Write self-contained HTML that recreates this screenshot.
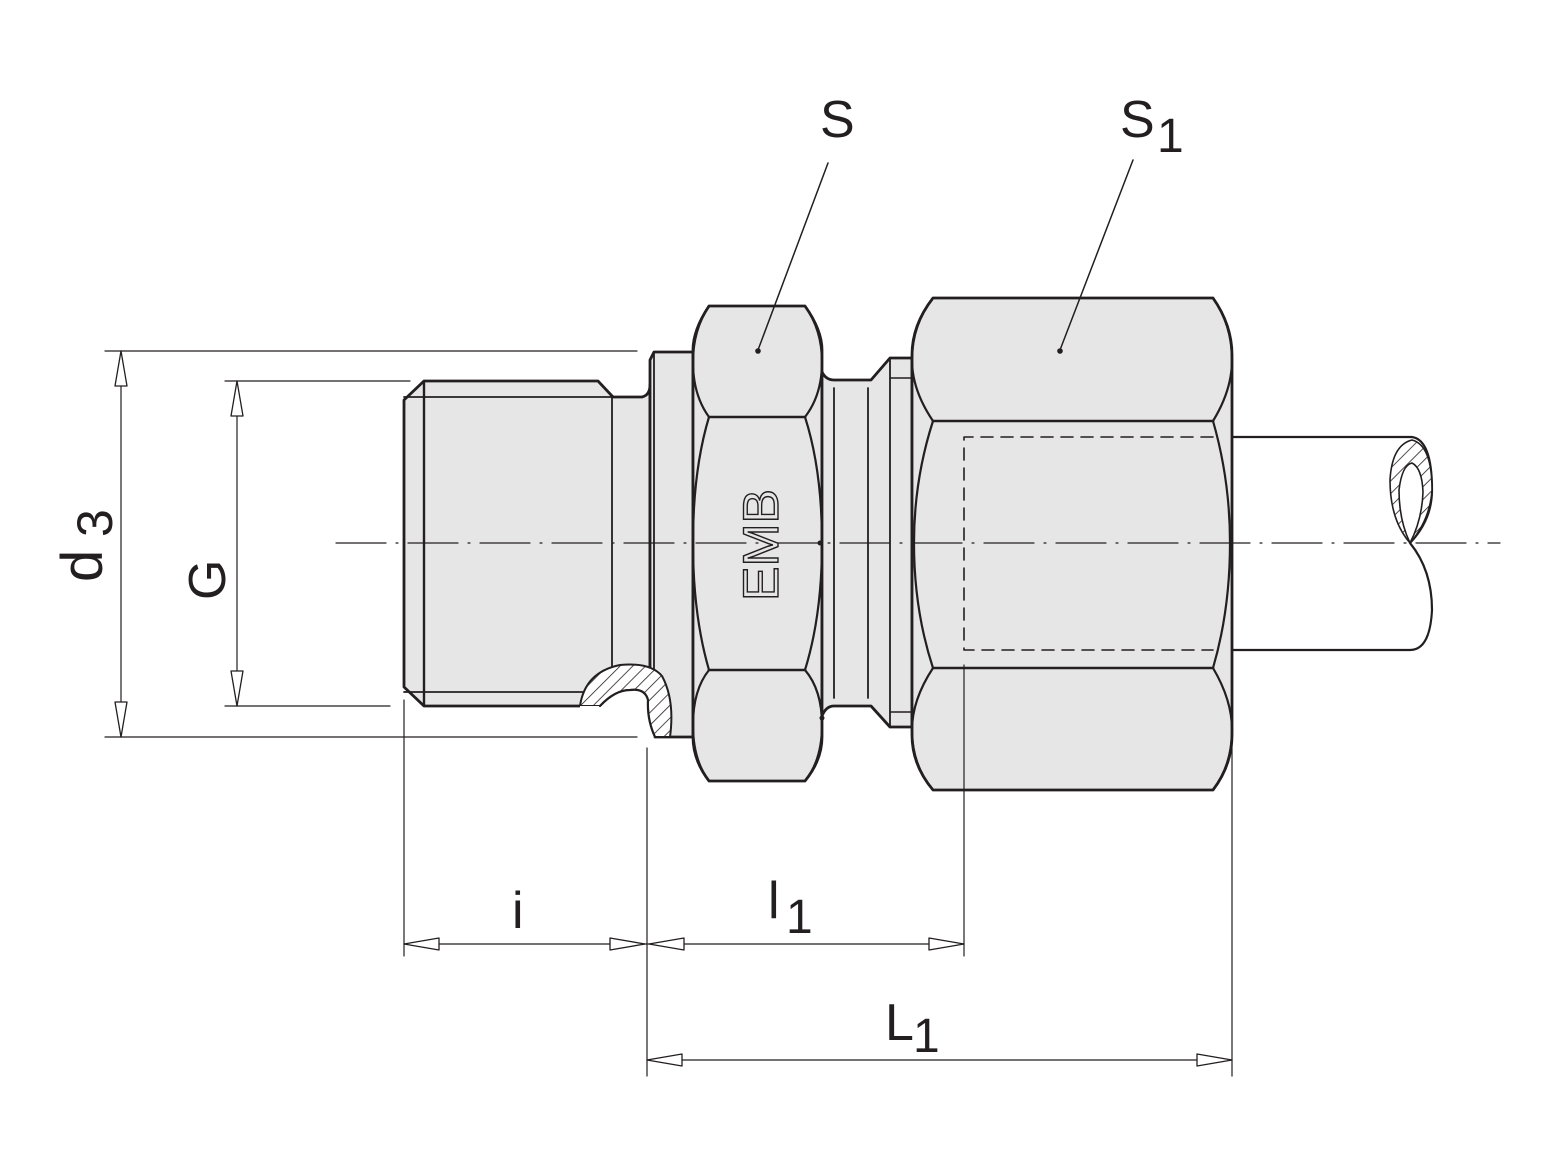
<!DOCTYPE html>
<html><head><meta charset="utf-8"><style>
html,body{margin:0;padding:0;background:#fff}
svg{display:block}
text{font-family:"Liberation Sans",sans-serif;fill:#231f20}
</style></head><body>
<svg width="1558" height="1169" viewBox="0 0 1558 1169" xmlns="http://www.w3.org/2000/svg">
<defs>
<pattern id="h" width="9" height="9" patternUnits="userSpaceOnUse" patternTransform="rotate(45)">
<rect width="9" height="9" fill="#fff"/><line x1="0" y1="0" x2="0" y2="9" stroke="#231f20" stroke-width="1.6"/>
</pattern>
</defs>
<g stroke="#231f20" fill="none" stroke-linecap="round" stroke-linejoin="round">
<!-- tube -->
<path d="M1232 437 L1412 437 Q1432 440 1432 490 Q1432 520 1410 543 Q1432 570 1432 610 Q1430 650 1410 650 L1232 650" fill="#fff" stroke-width="2.2"/>
<path d="M1410 543 Q1390 520 1390 480 Q1392 445 1412 440 Q1432 445 1432 490 Q1430 520 1410 543 Z" fill="url(#h)" stroke-width="1.6"/>
<path d="M1410 543 Q1399 520 1399 490 Q1402 465 1412 463 Q1422 468 1423 492 Q1422 520 1410 543 Z" fill="#fff" stroke-width="1.6"/>

<!-- thread body -->
<path d="M424 381 L598 381 L613 397 L642 397 Q650 395 650 385 L650 706 L598 706 L584 706 L424 706 L404 687 L404 400 Z" fill="#e6e6e7" stroke-width="2.8"/>
<line x1="424" y1="381" x2="424" y2="706" stroke-width="2.4"/>
<line x1="404" y1="397" x2="613" y2="397" stroke-width="1.8"/>
<line x1="404" y1="692" x2="600" y2="692" stroke-width="1.8"/>
<line x1="612" y1="397" x2="612" y2="680" stroke-width="1.8"/>
<!-- collar -->
<path d="M650 360 L654 352 L693 352 L693 737 L655 737 L650 700 Z" fill="#e6e6e7" stroke-width="2.8"/>
<line x1="654" y1="352" x2="654" y2="700" stroke-width="1.8"/>
<!-- section cutout -->
<path d="M580 706 Q585 672 620 665 Q650 662 662 676 Q675 700 670 737 L655 737 Q647 720 648 700 Q645 688 630 690 Q615 690 600 706 Z" fill="url(#h)" stroke-width="2"/>
<path d="M580 706 L600 706 Q615 690 630 690 Q645 688 648 700 Q647 720 655 737 L640 737 L580 737 Z" fill="#fff" stroke="none"/>
<path d="M600 706 Q615 690 630 690 Q645 688 648 700 Q647 720 655 737" stroke-width="2.2"/>

<!-- hex S -->
<path d="M709 306 L805 306 Q822 330 822 350 L822 737 Q822 760 805 781 L709 781 Q693 760 693 737 L693 350 Q693 330 709 306 Z" fill="#e6e6e7" stroke-width="2.8"/>
<path d="M709 417 Q693 470 693 543 Q693 615 709 670" stroke-width="2.2"/>
<path d="M805 417 Q822 470 822 543 Q822 615 805 670" stroke-width="2.2"/>
<path d="M709 417 Q693 395 693 362 Q693 330 709 306" stroke-width="2.2"/>
<path d="M805 417 Q822 395 822 362 Q822 330 805 306" stroke-width="2.2"/>
<path d="M709 670 Q693 690 693 725 Q693 760 709 781" stroke-width="2.2"/>
<path d="M805 670 Q822 690 822 725 Q822 760 805 781" stroke-width="2.2"/>
<line x1="709" y1="417" x2="805" y2="417" stroke-width="2.6"/>
<line x1="709" y1="670" x2="805" y2="670" stroke-width="2.6"/>

<!-- neck + collar 2 -->
<path d="M822 372 Q826 380 834 380 L871 380 L890 358 L912 358 L912 727 L890 727 L871 706 L834 706 Q826 706 822 716 Z" fill="#e6e6e7" stroke-width="2.8"/>
<line x1="834" y1="388" x2="834" y2="698" stroke-width="1.8"/>
<line x1="868" y1="388" x2="868" y2="698" stroke-width="1.8"/>
<line x1="890" y1="358" x2="890" y2="727" stroke-width="1.8"/>
<line x1="890" y1="378" x2="912" y2="378" stroke-width="1.4"/>
<line x1="890" y1="712" x2="912" y2="712" stroke-width="1.4"/>
<circle cx="820" cy="543" r="2.5" fill="#231f20" stroke="none"/>
<circle cx="822" cy="718" r="2.5" fill="#231f20" stroke="none"/>

<!-- hex S1 -->
<path d="M933 298 L1213 298 Q1232 325 1232 355 L1232 735 Q1232 765 1213 790 L933 790 Q912 765 912 735 L912 355 Q912 325 933 298 Z" fill="#e6e6e7" stroke-width="2.8"/>
<path d="M933 421 Q912 390 912 360 Q912 325 933 298" stroke-width="2.2"/>
<path d="M1213 421 Q1232 390 1232 360 Q1232 325 1213 298" stroke-width="2.2"/>
<path d="M933 421 Q914 480 914 543 Q914 610 933 668" stroke-width="2.2"/>
<path d="M1213 421 Q1230 480 1230 543 Q1230 610 1213 668" stroke-width="2.2"/>
<path d="M933 668 Q912 700 912 730 Q912 765 933 790" stroke-width="2.2"/>
<path d="M1213 668 Q1232 700 1232 730 Q1232 765 1213 790" stroke-width="2.2"/>
<line x1="933" y1="421" x2="1213" y2="421" stroke-width="2.6"/>
<line x1="933" y1="668" x2="1213" y2="668" stroke-width="2.6"/>
<line x1="1232" y1="437" x2="1232" y2="650" stroke-width="2"/>
<!-- dashed bore -->
<path d="M1213 437 L964 437 L964 650 L1213 650" stroke-width="1.6" stroke-dasharray="12 8"/>

<!-- centerline -->
<line x1="336" y1="543" x2="1500" y2="543" stroke-width="1.2" stroke-dasharray="50 10 2 10"/>

<!-- leaders -->
<line x1="828" y1="163" x2="758" y2="350" stroke-width="1.5"/>
<line x1="1133" y1="160" x2="1060" y2="350" stroke-width="1.5"/>
<circle cx="758" cy="351" r="2.8" fill="#231f20" stroke="none"/>
<circle cx="1060" cy="351" r="2.8" fill="#231f20" stroke="none"/>

<!-- extension lines -->
<g stroke-width="1.2">
<line x1="105" y1="351" x2="637" y2="351"/>
<line x1="105" y1="737" x2="637" y2="737"/>
<line x1="225" y1="381" x2="410" y2="381"/>
<line x1="225" y1="706" x2="390" y2="706"/>
<line x1="404" y1="700" x2="404" y2="956"/>
<line x1="647" y1="748" x2="647" y2="1076"/>
<line x1="964" y1="665" x2="964" y2="956"/>
<line x1="1232" y1="650" x2="1232" y2="1076"/>
<line x1="121" y1="351" x2="121" y2="737"/>
<line x1="237" y1="381" x2="237" y2="706"/>
<line x1="404" y1="944" x2="964" y2="944"/>
<line x1="647" y1="1060" x2="1232" y2="1060"/>
</g>
<g stroke-width="1.3" fill="#fff">
<path d="M121 351 L115 386 L127 386 Z"/>
<path d="M121 737 L115 702 L127 702 Z"/>
<path d="M237 381 L231 416 L243 416 Z"/>
<path d="M237 706 L231 671 L243 671 Z"/>
<path d="M404 944 L439 938 L439 950 Z"/>
<path d="M645 944 L610 938 L610 950 Z"/>
<path d="M649 944 L684 938 L684 950 Z"/>
<path d="M964 944 L929 938 L929 950 Z"/>
<path d="M647 1060 L682 1054 L682 1066 Z"/>
<path d="M1232 1060 L1197 1054 L1197 1066 Z"/>
</g>
</g>

<!-- EMB logo -->
<text x="0" y="0" transform="translate(761 545) rotate(-90)" font-size="50" text-anchor="middle" dominant-baseline="central" style="fill:#e6e6e7;stroke:#231f20;stroke-width:1.4" textLength="112" lengthAdjust="spacingAndGlyphs">EMB</text>

<!-- labels -->
<text x="820" y="137" font-size="52">S</text>
<text x="1120" y="137" font-size="52">S</text>
<text x="1157" y="152" font-size="48">1</text>
<text x="512" y="928" font-size="52">i</text>
<text x="768" y="918" font-size="52">l</text>
<text x="786" y="933" font-size="48">1</text>
<text x="885" y="1040" font-size="52">L</text>
<text x="913" y="1052" font-size="48">1</text>
<text transform="translate(102 582) rotate(-90)" font-size="58">d</text>
<text transform="translate(112 537) rotate(-90)" font-size="50">3</text>
<text transform="translate(225 600) rotate(-90)" font-size="52">G</text>
</svg>
</body></html>
